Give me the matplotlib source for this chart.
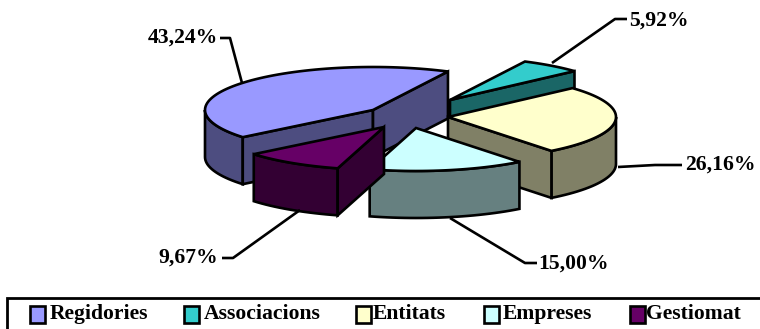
import numpy as np
import matplotlib
matplotlib.use('Agg')
import matplotlib.pyplot as plt
from matplotlib.patches import Polygon, Rectangle

plt.rcParams['font.family'] = ['Liberation Serif', 'DejaVu Serif']
plt.rcParams['font.weight'] = 'bold'

# chart data
categories = ['Regidories', 'Associacions', 'Entitats', 'Empreses', 'Gestiomat']
values = [43.24, 5.92, 26.16, 15.00, 9.67]
value_labels = ['43,24%', '5,92%', '26,16%', '15,00%', '9,67%']

# styling
top_colors = ['#9999FF', '#33CCCC', '#FFFFCC', '#CCFFFF', '#660066']
side_colors = ['#4D4D80', '#1A6666', '#808066', '#668080', '#330033']

# pie geometry in pixels (apex of each exploded slice)
apex = [(373, 110), (450, 100), (448, 117), (416, 128), (384, 127)]
RX, RY, DEPTH = 168, 43, 47
START_ANGLE = 63.5
LW = 1.9

# leader lines, label anchors and legend layout
leaders = [[(220, 38), (230, 38), (242, 83)],
           [(627, 19), (615, 19), (552, 63)],
           [(618, 167), (655, 165), (682, 165)],
           [(450, 218), (525, 263), (537, 263)],
           [(300, 210), (233, 258), (222, 258)]]
label_pos = [(218, 38, 'right'), (629, 21, 'left'), (685, 165, 'left'),
             (538, 264, 'left'), (218, 258, 'right')]
swatch_x = [30, 184, 356, 484, 630]
legend_text_x = [50, 204, 373, 503, 646]


def rim(center, a0, a1):
    # points on the elliptical rim between two angles (degrees)
    n = max(2, int(abs(a1 - a0) / 2) + 1)
    t = np.radians(np.linspace(a0, a1, n))
    return np.column_stack([center[0] + RX * np.cos(t), center[1] - RY * np.sin(t)])


def wall(ax, p, q, color):
    # extruded face under the segment p-q
    pts = [p, q, (q[0], q[1] + DEPTH), (p[0], p[1] + DEPTH)]
    ax.add_patch(Polygon(pts, closed=True, fc=color, ec='black', lw=LW))


fig = plt.figure(figsize=(7.6, 3.29), dpi=100)
ax = fig.add_axes([0, 0, 1, 1])
ax.set_xlim(0, 760)
ax.set_ylim(329, 0)
ax.axis('off')

# slices run clockwise from START_ANGLE, the first one goes round the back
spans = [v / sum(values) * 360 for v in values]
hi_angles = [START_ANGLE + spans[0]]
lo_angles = [START_ANGLE]
for s in spans[1:]:
    hi_angles.append(lo_angles[-1])
    lo_angles.append(lo_angles[-1] - s)

for i in range(len(values)):
    hi, lo = hi_angles[i], lo_angles[i]
    c = apex[i]

    # outer wall: only the part of the rim facing the viewer
    for k in [0, 1]:
        a0 = max(lo, -180 + 360 * k)
        a1 = min(hi, 360 * k)
        if a1 > a0:
            arc = rim(c, a0, a1)
            pts = np.vstack([arc, arc[::-1] + [0, DEPTH]])
            ax.add_patch(Polygon(pts, closed=True, fc=side_colors[i], ec='black', lw=LW))

    # cut faces, only those turned to the viewer
    if np.cos(np.radians(hi)) < 0:
        wall(ax, c, rim(c, hi, hi)[0], side_colors[i])
    if np.cos(np.radians(lo)) > 0:
        wall(ax, c, rim(c, lo, lo)[0], side_colors[i])

    # top face
    pts = np.vstack([[c], rim(c, lo, hi)])
    ax.add_patch(Polygon(pts, closed=True, fc=top_colors[i], ec='black', lw=LW))

# value labels with their leader lines
for pts, lab, (x, y, ha) in zip(leaders, value_labels, label_pos):
    xs, ys = zip(*pts)
    ax.plot(xs, ys, color='black', lw=LW, solid_capstyle='butt')
    ax.text(x, y, lab, ha=ha, va='center', fontsize=15.6, fontweight='bold', color='black')

# legend box runs off the bottom and right edges of the picture
ax.add_patch(Rectangle((7, 298), 770, 50, fc='white', ec='black', lw=2))
for name, col, sx, tx in zip(categories, top_colors, swatch_x, legend_text_x):
    ax.add_patch(Rectangle((sx, 306), 15, 17, fc=col, ec='black', lw=LW))
    ax.text(tx, 314, name, ha='left', va='center', fontsize=15.6, fontweight='bold', color='black')

fig.savefig('out.png', dpi=100)
